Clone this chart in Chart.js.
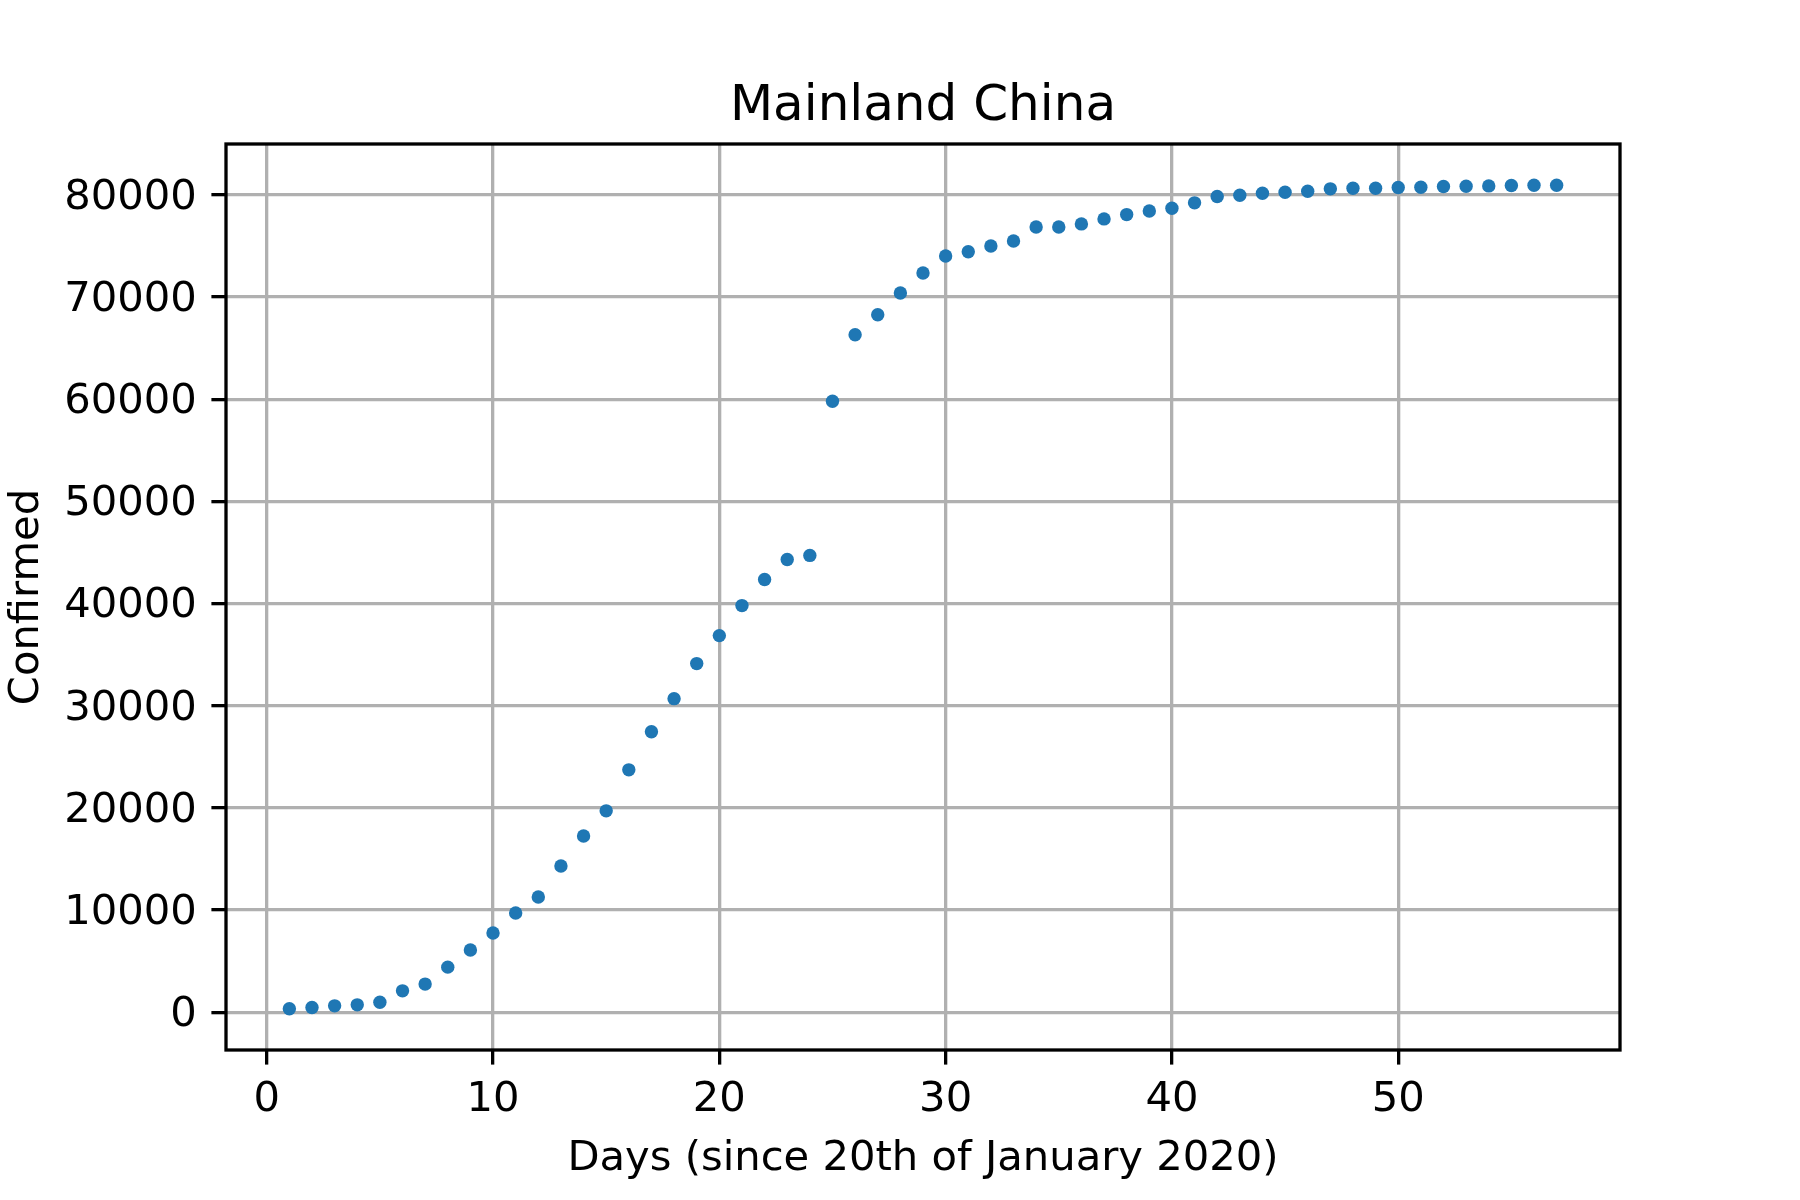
<!DOCTYPE html>
<html>
<head>
<meta charset="utf-8">
<script src="https://cdn.jsdelivr.net/npm/chart.js@4/dist/chart.umd.min.js"></script>
<style>
  body { margin: 0; background: #fff; }
  canvas { display: block; }
</style>
</head>
<body>
<canvas id="chart" width="1800" height="1200"></canvas>
<script>
// days since 20 Jan 2020 and confirmed cases in mainland China
var days = [1, 2, 3, 4, 5, 6, 7, 8, 9, 10,
            11, 12, 13, 14, 15, 16, 17, 18, 19, 20,
            21, 22, 23, 24, 25, 26, 27, 28, 29, 30,
            31, 32, 33, 34, 35, 36, 37, 38, 39, 40,
            41, 42, 43, 44, 45, 46, 47, 48, 49, 50,
            51, 52, 53, 54, 55, 56, 57];
var confirmed = [330, 460, 620, 720, 980, 2090, 2750, 4410, 6080, 7750,
                 9710, 11280, 14310, 17250, 19710, 23720, 27450, 30690, 34120, 36860,
                 39800, 42350, 44310, 44710, 59800, 66310, 68270, 70390, 72350, 74020,
                 74440, 75000, 75490, 76860, 76860, 77160, 77650, 78070, 78430, 78690,
                 79220, 79840, 79970, 80160, 80260, 80360, 80590, 80650, 80650, 80720,
                 80750, 80820, 80850, 80880, 80920, 80950, 80950];
var xTicks = [0, 10, 20, 30, 40, 50];
var yTicks = [0, 10000, 20000, 30000, 40000, 50000, 60000, 70000, 80000];

var points = days.map(function (d, i) { return {x: d, y: confirmed[i]}; });

// matplotlib-like 5% margins
function margins(arr) {
    var lo = Math.min.apply(null, arr), hi = Math.max.apply(null, arr);
    var m = (hi - lo) * 0.05;
    return [lo - m, hi + m];
}
var xr = margins(days), yr = margins(confirmed);

var lw = 3.3;
var font = {family: 'DejaVu Sans', size: 41.7};

// axes frame on all four sides
var frame = {
    id: 'frame',
    afterDraw: function (chart) {
        var a = chart.chartArea, c = chart.ctx;
        c.save();
        c.strokeStyle = '#000';
        c.lineWidth = lw;
        c.strokeRect(a.left, a.top, a.right - a.left, a.bottom - a.top);
        c.restore();
    }
};

var ctx = document.getElementById('chart');
var chart = new Chart(ctx, {
    type: 'scatter',
    data: {
        datasets: [{
            data: points,
            pointRadius: 6.7,
            pointHoverRadius: 6.7,
            pointBackgroundColor: '#1f77b4',
            pointBorderWidth: 0,
            showLine: false
        }]
    },
    options: {
        responsive: false,
        devicePixelRatio: 1,
        animation: false,
        layout: {padding: {left: 0, right: 180, top: 0, bottom: 0}},
        plugins: {
            legend: {display: false},
            tooltip: {enabled: false},
            title: {
                display: true,
                text: 'Mainland China',
                color: '#000',
                fullSize: false,
                font: {family: 'DejaVu Sans', size: 50, weight: 'normal'},
                padding: {top: 77, bottom: 7}
            }
        },
        scales: {
            x: {
                type: 'linear',
                min: xr[0],
                max: xr[1],
                afterBuildTicks: function (s) { s.ticks = xTicks.map(function (v) { return {value: v}; }); },
                afterFit: function (s) { s.height = 150; },
                grid: {color: '#b0b0b0', lineWidth: lw, tickColor: '#000', tickWidth: lw, tickLength: 14.6},
                border: {display: false},
                ticks: {color: '#000', font: font, padding: 11, maxRotation: 0,
                        callback: function (v) { return String(v); }},
                title: {display: true, text: 'Days (since 20th of January 2020)', color: '#000',
                        font: font, padding: {top: 0, bottom: 16}}
            },
            y: {
                type: 'linear',
                min: yr[0],
                max: yr[1],
                afterBuildTicks: function (s) { s.ticks = yTicks.map(function (v) { return {value: v}; }); },
                afterFit: function (s) { s.width = 226; },
                grid: {color: '#b0b0b0', lineWidth: lw, tickColor: '#000', tickWidth: lw, tickLength: 14.6},
                border: {display: false},
                ticks: {color: '#000', font: font, padding: 14.6, labelOffset: 3,
                        callback: function (v) { return String(v); }},
                title: {display: true, text: 'Confirmed', color: '#000',
                        font: font, padding: {top: 2, bottom: 0}}
            }
        }
    },
    plugins: [frame]
});
</script>
</body>
</html>
